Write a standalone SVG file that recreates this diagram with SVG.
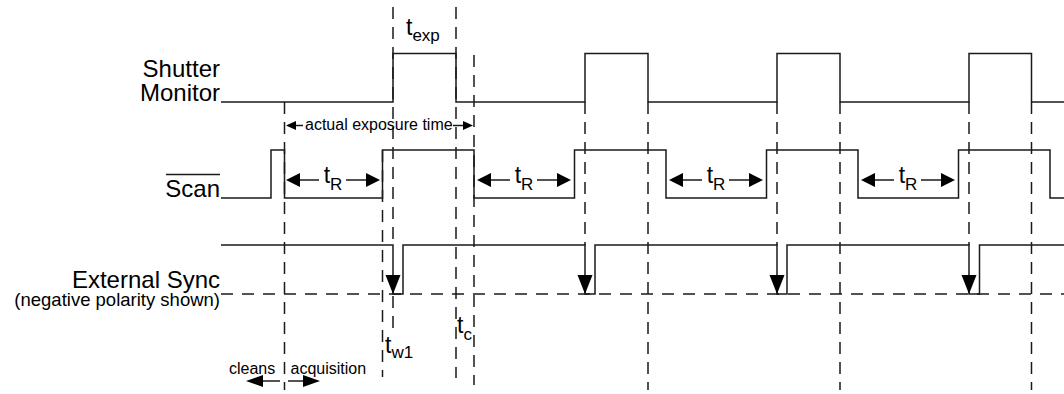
<svg xmlns="http://www.w3.org/2000/svg" xmlns:xlink="http://www.w3.org/1999/xlink" width="1064" height="394" viewBox="0 0 1064 394">
<style>
  .wave{fill:none;stroke:#1a1a1a;stroke-width:1.5;stroke-linejoin:miter}
  .dash{fill:none;stroke:#1a1a1a;stroke-width:1.5;stroke-dasharray:12 8}
  .hdash{fill:none;stroke:#1a1a1a;stroke-width:1.5;stroke-dasharray:12 9}
  .ln{fill:none;stroke:#1a1a1a;stroke-width:1.5}
  .ah{fill:#000}
  text{font-family:"Liberation Sans",Arial,sans-serif;fill:#000}
  .big{font-size:24px}
  .med{font-size:18.5px}
  .sm{font-size:16px}
  .t{font-size:23px}
  .sub{font-size:17px}
</style>
<defs>
  <polygon id="ahL" points="0,0 -14,-7 -14,7"/>
  <polygon id="ahS" points="0,0 -10,-4.5 -10,4.5"/>
  <polygon id="ahD" points="0,0 -19,-7.5 -19,7.5"/>
  <polygon id="ahC" points="0,0 -17,-6 -17,6"/>
</defs>

<g id="labels">
  <text class="big" x="220" y="77" text-anchor="end">Shutter</text>
  <text class="big" x="220" y="101" text-anchor="end">Monitor</text>
  <text class="big" x="220" y="196.5" text-anchor="end">Scan</text>
  <line class="ln" x1="166" y1="174.5" x2="220" y2="174.5"/>
  <text class="big" x="220" y="288" text-anchor="end">External Sync</text>
  <text class="med" x="220" y="306" text-anchor="end">(negative polarity shown)</text>
</g>

<g id="markers">
  <line class="dash" x1="284.5" y1="102" x2="284.5" y2="390"/>
  <line class="dash" x1="382.5" y1="150" x2="382.5" y2="377"/>
  <line class="dash" x1="393" y1="7" x2="393" y2="245"/>
  <line class="dash" x1="393" y1="296" x2="393" y2="333"/>
  <line class="dash" x1="456" y1="7" x2="456" y2="378"/>
  <line class="dash" x1="474" y1="55" x2="474" y2="385"/>
  <line class="dash" x1="585" y1="102" x2="585" y2="245"/>
  <line class="dash" x1="648" y1="102" x2="648" y2="390"/>
  <line class="dash" x1="777" y1="102" x2="777" y2="245"/>
  <line class="dash" x1="840" y1="102" x2="840" y2="390"/>
  <line class="dash" x1="969" y1="102" x2="969" y2="245"/>
  <line class="dash" x1="1031.5" y1="102" x2="1031.5" y2="390"/>
  <line class="hdash" x1="221" y1="294" x2="1064" y2="294"/>
</g>

<g id="shutter-monitor">
  <polyline class="wave" points="221,102 393,102 393,53.5 456,53.5 456,102 585,102 585,53.5 648,53.5 648,102 777,102 777,53.5 840,53.5 840,102 969,102 969,53.5 1031.5,53.5 1031.5,102 1064,102"/>
</g>

<g id="scan">
  <polyline class="wave" points="221,198 271,198 271,150 284.5,150 284.5,198 382.5,198 382.5,150 474,150 474,198 574.5,198 574.5,150 666,150 666,198 766.5,198 766.5,150 858,150 858,198 958.5,198 958.5,150 1050,150 1050,198 1064,198"/>
</g>

<g id="external-sync">
  <polyline class="wave" points="221,245 393,245 393,294 403,294 403,245 585,245 585,294 595,294 595,245 777,245 777,294 787,294 787,245 969,245 969,294 979.5,294 979.5,245 1064,245"/>
  <use href="#ahD" xlink:href="#ahD" class="ah" transform="translate(393,294) rotate(90)"/>
  <use href="#ahD" xlink:href="#ahD" class="ah" transform="translate(585,294) rotate(90)"/>
  <use href="#ahD" xlink:href="#ahD" class="ah" transform="translate(777,294) rotate(90)"/>
  <use href="#ahD" xlink:href="#ahD" class="ah" transform="translate(969,294) rotate(90)"/>
</g>

<g id="connectors">
  <!-- t_R arrows -->
  <g id="tR1">
    <line class="ln" x1="299" y1="180" x2="319" y2="180"/>
    <line class="ln" x1="346" y1="180" x2="367" y2="180"/>
    <use href="#ahL" xlink:href="#ahL" class="ah" transform="translate(286,180) rotate(180)"/>
    <use href="#ahL" xlink:href="#ahL" class="ah" transform="translate(380,180)"/>
    <text x="333" y="183" text-anchor="middle"><tspan class="t">t</tspan><tspan class="sub" dy="7">R</tspan></text>
  </g>
  <g id="tR2">
    <line class="ln" x1="490" y1="180" x2="510" y2="180"/>
    <line class="ln" x1="537" y1="180" x2="558" y2="180"/>
    <use href="#ahL" xlink:href="#ahL" class="ah" transform="translate(477,180) rotate(180)"/>
    <use href="#ahL" xlink:href="#ahL" class="ah" transform="translate(571,180)"/>
    <text x="524" y="183" text-anchor="middle"><tspan class="t">t</tspan><tspan class="sub" dy="7">R</tspan></text>
  </g>
  <g id="tR3">
    <line class="ln" x1="682" y1="180" x2="702" y2="180"/>
    <line class="ln" x1="729" y1="180" x2="750" y2="180"/>
    <use href="#ahL" xlink:href="#ahL" class="ah" transform="translate(669,180) rotate(180)"/>
    <use href="#ahL" xlink:href="#ahL" class="ah" transform="translate(763,180)"/>
    <text x="716" y="183" text-anchor="middle"><tspan class="t">t</tspan><tspan class="sub" dy="7">R</tspan></text>
  </g>
  <g id="tR4">
    <line class="ln" x1="874" y1="180" x2="894" y2="180"/>
    <line class="ln" x1="921" y1="180" x2="942" y2="180"/>
    <use href="#ahL" xlink:href="#ahL" class="ah" transform="translate(861,180) rotate(180)"/>
    <use href="#ahL" xlink:href="#ahL" class="ah" transform="translate(955,180)"/>
    <text x="908" y="183" text-anchor="middle"><tspan class="t">t</tspan><tspan class="sub" dy="7">R</tspan></text>
  </g>
  <!-- actual exposure time -->
  <g id="actual-exposure">
    <line class="ln" x1="295" y1="125.5" x2="303" y2="125.5"/>
    <line class="ln" x1="453" y1="125.5" x2="464" y2="125.5"/>
    <use href="#ahS" xlink:href="#ahS" class="ah" transform="translate(286,125.5) rotate(180)"/>
    <use href="#ahS" xlink:href="#ahS" class="ah" transform="translate(473,125.5)"/>
    <text class="sm" x="305" y="130">actual exposure time</text>
  </g>
  <!-- cleans / acquisition -->
  <g id="cleans-acq">
    <line class="ln" x1="261" y1="381" x2="280" y2="381"/>
    <line class="ln" x1="288" y1="381" x2="304" y2="381"/>
    <use href="#ahC" xlink:href="#ahC" class="ah" transform="translate(246,381) rotate(180)"/>
    <use href="#ahC" xlink:href="#ahC" class="ah" transform="translate(320,381)"/>
    <text class="sm" x="229" y="374">cleans</text>
    <text class="sm" x="290.5" y="374">acquisition</text>
  </g>
</g>

<g id="timing-labels">
  <text x="406" y="35"><tspan class="t">t</tspan><tspan class="sub" dy="6">exp</tspan></text>
  <text x="385" y="353"><tspan class="t">t</tspan><tspan class="sub" dy="5">w1</tspan></text>
  <text x="457" y="333"><tspan class="t">t</tspan><tspan class="sub" dy="7">c</tspan></text>
</g>
</svg>
